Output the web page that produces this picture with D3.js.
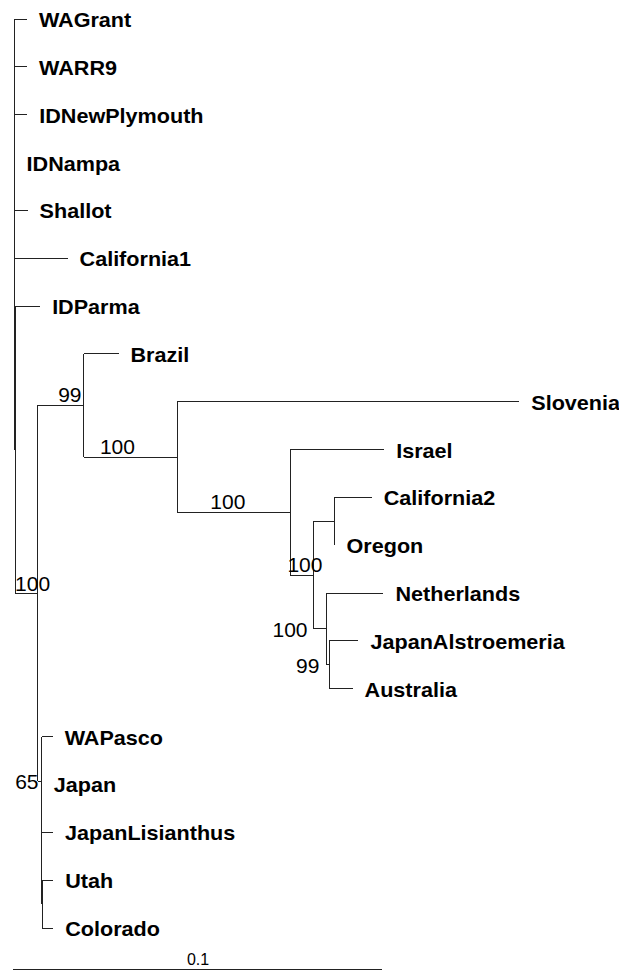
<!DOCTYPE html>
<html>
<head>
<meta charset="utf-8">
<style>
  body { margin: 0; background: #fff; }
  svg { display: block; }
  .branch { stroke: #222; stroke-width: 1; fill: none; shape-rendering: crispEdges; }
  .taxon { font-family: "Liberation Sans", Arial, Helvetica, sans-serif; font-size: 20px; font-weight: bold; fill: #000; }
  .support { font-family: "Liberation Sans", Arial, Helvetica, sans-serif; font-size: 21px; fill: #000; }
  .scale text { font-family: "Liberation Sans", Arial, Helvetica, sans-serif; font-size: 16px; fill: #000; }
</style>
</head>
<body>
<svg width="619" height="972"></svg>
<script src="https://d3js.org/d3.v7.min.js"></script>
<script>

// tree: [node, parent, branch length] (substitutions per site)
var edges = [
  ["root", null, 0],
  ["WAGrant", "root", 0.0035],
  ["t1", "root", 0.00005],
  ["WARR9", "t1", 0.0035],
  ["t2", "t1", 0.00005],
  ["IDNewPlymouth", "t2", 0.0035],
  ["t3", "t2", 0.00005],
  ["IDNampa", "t3", 0],
  ["t4", "t3", 0.00005],
  ["Shallot", "t4", 0.0035],
  ["t5", "t4", 0.00005],
  ["California1", "t5", 0.0143],
  ["t6", "t5", 0.00005],
  ["IDParma", "t6", 0.0068],
  ["a", "t6", 0.0061],
  ["b", "a", 0.0125],
  ["Brazil", "b", 0.0095],
  ["c", "b", 0.0255],
  ["Slovenia", "c", 0.0929],
  ["d", "c", 0.0307],
  ["Israel", "d", 0.0255],
  ["e", "d", 0.0063],
  ["f", "e", 0.0057],
  ["California2", "f", 0.0101],
  ["Oregon", "f", 0],
  ["g", "e", 0.0035],
  ["Netherlands", "g", 0.0155],
  ["h", "g", 0.0008],
  ["JapanAlstroemeria", "h", 0.0079],
  ["Australia", "h", 0.0063],
  ["i", "a", 0.0011],
  ["WAPasco", "i", 0.003],
  ["u1", "i", 0.00005],
  ["Japan", "u1", 0],
  ["u2", "u1", 0.00005],
  ["JapanLisianthus", "u2", 0.003],
  ["u3", "u2", 0.00005],
  ["Utah", "u3", 0.003],
  ["Colorado", "u3", 0.003]
];

// bootstrap values on internal nodes
var supportNodes  = ["a", "b", "c", "d", "e", "g", "h", "i"];
var supportValues = [100, 99, 100, 100, 100, 100, 99, 65];

var scaleBarLength = 0.1;
var scaleBarLabel = "0.1";

// where each bootstrap label sits relative to its branch (layout only)
var supportPlace = {
  a: { mode: "start", dx: 0 },
  b: { mode: "end", dx: -2 },
  c: { mode: "mid", dx: -13 },
  d: { mode: "mid", dx: -6 },
  e: { mode: "mid", dx: 3 },
  g: { mode: "left", dx: -6 },
  h: { mode: "left", dx: -7 },
  i: { mode: "left", dx: 1 }
};

var svg = d3.select("svg");

var root = d3.stratify()
    .id(function(d) { return d[0]; })
    .parentId(function(d) { return d[1]; })
  (edges);

root.eachBefore(function(n) {
  n.dist = (n.parent ? n.parent.dist : 0) + n.data[2];
});

var leaves = root.leaves();

var x = d3.scaleLinear()
    .domain([0, 0.1])
    .range([14, 382]);

var y = d3.scaleLinear()
    .domain([0, leaves.length - 1])
    .range([19, 928]);

leaves.forEach(function(n, k) { n.py = y(k); });
root.eachAfter(function(n) {
  n.px = x(n.dist);
  if (n.children) {
    n.py = (n.children[0].py + n.children[n.children.length - 1].py) / 2;
  }
});

var g = svg.append("g");

// horizontal branches
g.selectAll(".hb")
  .data(root.descendants().filter(function(n) { return n.parent; }))
  .enter().append("line")
    .attr("class", "branch")
    .attr("x1", function(n) { return x(n.parent.dist); })
    .attr("x2", function(n) { return n.px; })
    .attr("y1", function(n) { return n.py; })
    .attr("y2", function(n) { return n.py; });

// vertical connectors
g.selectAll(".vb")
  .data(root.descendants().filter(function(n) { return n.children; }))
  .enter().append("line")
    .attr("class", "branch")
    .attr("x1", function(n) { return n.px; })
    .attr("x2", function(n) { return n.px; })
    .attr("y1", function(n) { return n.children[0].py; })
    .attr("y2", function(n) { return n.children[n.children.length - 1].py; });

// taxon names
g.selectAll(".taxon")
  .data(leaves)
  .enter().append("text")
    .attr("class", "taxon")
    .attr("transform", function(n) {
      return "translate(" + (n.px + 12) + "," + (n.py + 8) + ") scale(1.08,1)";
    })
    .text(function(n) { return n.id; });

// bootstrap labels
var byId = {};
root.each(function(n) { byId[n.id] = n; });

g.selectAll(".support")
  .data(supportNodes.map(function(id, k) { return { node: byId[id], value: supportValues[k] }; }))
  .enter().append("text")
    .attr("class", "support")
    .each(function(d) {
      var n = d.node, p = supportPlace[n.id], x0 = x(n.parent.dist);
      var t = d3.select(this), tx, ty = n.py - 3, anchor = "middle";
      if (p.mode == "start") { tx = x0; anchor = "start"; ty = n.py - 2; }
      else if (p.mode == "end") { tx = n.px; anchor = "end"; }
      else if (p.mode == "mid") { tx = (x0 + n.px) / 2; }
      else { tx = x0; anchor = "end"; ty = n.py + 8; }
      t.attr("x", tx + p.dx).attr("y", ty).attr("text-anchor", anchor);
    })
    .text(function(d) { return d.value; });

// scale bar
var sb = svg.append("g").attr("class", "scale");
sb.append("line")
    .attr("class", "branch")
    .attr("x1", x(0) - 1)
    .attr("x2", x(scaleBarLength))
    .attr("y1", 969)
    .attr("y2", 969);
sb.append("text")
    .attr("x", (x(0) + x(scaleBarLength)) / 2)
    .attr("y", 965)
    .attr("text-anchor", "middle")
    .text(scaleBarLabel);

</script>
</body>
</html>
